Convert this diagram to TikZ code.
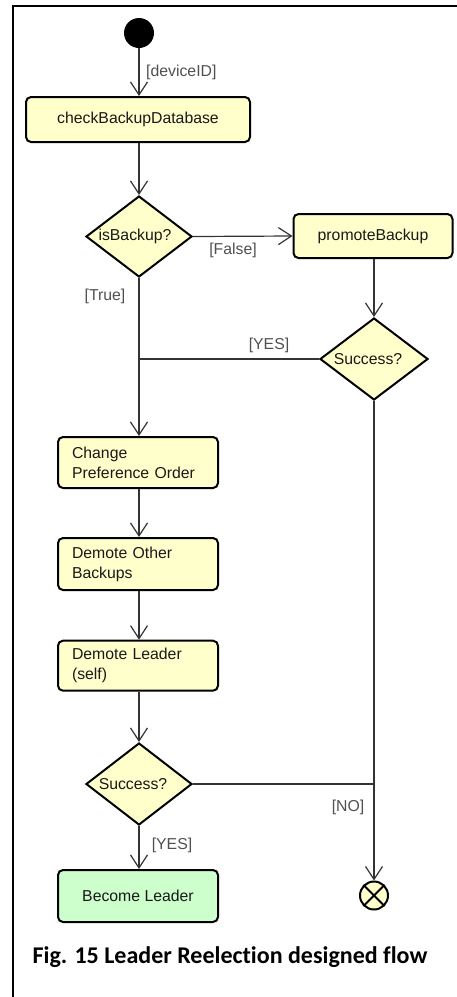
\documentclass[tikz,border=0pt]{standalone}
\usepackage{fontspec}
\setmainfont{Liberation Sans}
\newfontfamily\capfont[RawFeature={-liga;-clig;-dlig}]{Carlito}
\usetikzlibrary{shapes.geometric,arrows.meta}
\definecolor{actfill}{HTML}{FFFFCC}
\definecolor{okfill}{HTML}{CCFFCC}
\definecolor{guardgray}{HTML}{505050}
\definecolor{flowline}{HTML}{333333}
\begin{document}
\begin{tikzpicture}[x=1pt,y=-1pt,
  font=\fontsize{15.8}{20}\selectfont,
  action/.style={draw=black,line width=2pt,rounded corners=5pt,fill=actfill,
    inner sep=0pt,text=black!90},
  decision/.style={draw=black,line width=2pt,fill=actfill,diamond,inner sep=0pt,
    minimum width=106pt,minimum height=81pt},
  flow/.style={draw=flowline,line width=1.2pt,
    -{Straight Barb[length=13pt,width=17pt,line width=1.2pt]}},
  plain/.style={draw=flowline,line width=1.2pt},
  guard/.style={text=guardgray,inner sep=0pt}]
\useasboundingbox (0,0) rectangle (457,997);

% frame
\draw[line width=2pt] (13,997) -- (13,6) -- (457,6);

% nodes
\node[circle,fill=black,minimum size=30pt,inner sep=0pt] (start) at (139,33) {};
\node[action,minimum width=224pt,minimum height=45pt] (check) at (138,119.5) {checkBackupDatabase};
\node[decision,label={[text=black!90,xshift=-4pt]center:isBackup?}] (isb) at (139,236.5) {};
\node[action,minimum width=159pt,minimum height=44pt] (promote) at (373,236) {promoteBackup};
\node[decision,minimum width=108pt,minimum height=82pt,
  label={[text=black!90,xshift=-6pt]center:Success?}] (s1) at (374,359) {};
\node[action,minimum height=51pt,text width=132pt,align=left,inner xsep=14pt] (cpo) at (138,462.5) {Change\\Preference Order};
\node[action,minimum height=52pt,text width=132pt,align=left,inner xsep=14pt] (dob) at (138,564) {Demote Other\\Backups};
\node[action,minimum height=50pt,text width=132pt,align=left,inner xsep=14pt] (dl) at (138,665.7) {Demote Leader\\(self)};
\node[decision,minimum height=82pt,label={[text=black!90,xshift=-6pt]center:Success?}] (s2) at (139,784) {};
\node[action,fill=okfill,minimum width=160pt,minimum height=52pt] (bl) at (138,896) {Become Leader};
\node[circle,draw=black,line width=2pt,fill=actfill,minimum size=28pt,inner sep=0pt] (final) at (374,895.5) {};
\draw[line width=2pt] (final.north east) -- (final.south west)
  (final.north west) -- (final.south east);

% connectors
\draw[flow] (start) -- (start |- check.north);
\draw[flow] (start |- check.south) -- (isb.north);
\draw[flow] (isb.east) -- (promote.west);
\draw[flow] (s1 |- promote.south) -- (s1.north);
\draw[flow] (isb.south) -- (isb |- cpo.north);
\coordinate (join) at (isb |- s1.west);
\draw[plain] (s1.west) -- (join);
\draw[flow] (isb |- cpo.south) -- (isb |- dob.north);
\draw[flow] (isb |- dob.south) -- (isb |- dl.north);
\draw[flow] (isb |- dl.south) -- (s2.north);
\draw[flow] (s2.south) -- (s2 |- bl.north);
\coordinate (merge) at (s1 |- s2.east);
\draw[plain] (s2.east) -- (merge);
\draw[flow] (s1.south) -- (final.north);

% guards
\node[guard,anchor=west] (gdev) at (146,72) {[deviceID]};
\node[guard] (gfalse) at (233,250) {[False]};
\node[guard] (gtrue) at (105,296) {[True]};
\node[guard] (gyes1) at (269,345) {[YES]};
\node[guard] (gyes2) at (172,845) {[YES]};
\node[guard] (gno) at (348,807) {[NO]};

% caption
\node[anchor=base,inner sep=0pt,font=\capfont\bfseries\fontsize{24}{28}\selectfont] (cap) at (230,963) {Fig. 15 Leader Reelection designed flow};
\end{tikzpicture}
\end{document}
